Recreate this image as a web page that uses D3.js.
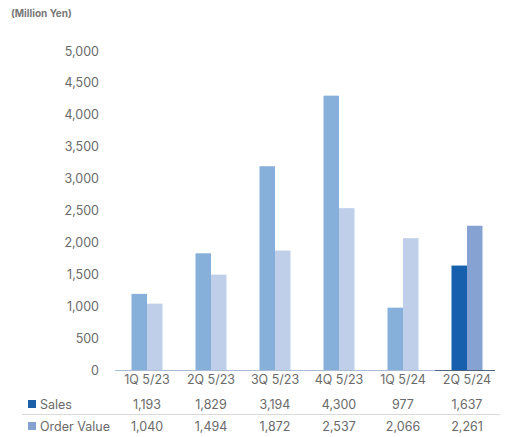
<!DOCTYPE html>
<html><head><meta charset="utf-8">
<script src="https://cdn.jsdelivr.net/npm/d3@7"></script>
<style>body{margin:0;background:#fff}svg{display:block}text{font-family:Inter,"Open Sans",sans-serif}</style>
</head><body><svg id="c" width="507" height="437"></svg>
<script>
const categories = ["1Q 5/23","2Q 5/23","3Q 5/23","4Q 5/23","1Q 5/24","2Q 5/24"];
const sales = [1193,1829,3194,4300,977,1637];
const orders = [1040,1494,1872,2537,2066,2261];
const yTicks = [0,500,1000,1500,2000,2500,3000,3500,4000,4500,5000];
const seriesNames = ["Sales","Order Value"];

const FONT = "Inter,'Open Sans',sans-serif";
const TXT = "#6a6a6a";
const svg = d3.select("#c");
const x = d3.scaleBand().domain(categories).range([115,499]);
const y = d3.scaleLinear().domain([0,5000]).range([370,51]);
const inner = d3.scaleBand().domain([0,1]).range([x.bandwidth()/2-15.5, x.bandwidth()/2+15.5]);
const fmt = d3.format(",");
const lastIdx = categories.length-1;
const colS = (i)=> i===lastIdx ? "#1660ad" : "#86afd9";
const colO = (i)=> i===lastIdx ? "#86a2d3" : "#c0cfe9";

svg.append("text").attr("x",11).attr("y",17).attr("font-size",10).attr("font-weight",700).attr("fill","#777").text("(Million Yen)");

const yAxis = svg.append("g").attr("transform","translate(101,0)")
  .call(d3.axisLeft(y).tickValues(yTicks).tickSize(0).tickPadding(2).tickFormat(fmt));
yAxis.select(".domain").remove();
yAxis.selectAll("text").attr("font-size",12.5).attr("fill",TXT).attr("font-family",FONT);

const g = svg.append("g");
categories.forEach((c,i)=>{
  g.append("rect").attr("x",x(c)+inner(0)).attr("width",inner.bandwidth())
    .attr("y",y(sales[i])).attr("height",y(0)-y(sales[i])).attr("fill",colS(i));
  g.append("rect").attr("x",x(c)+inner(1)).attr("width",inner.bandwidth())
    .attr("y",y(orders[i])).attr("height",y(0)-y(orders[i])).attr("fill",colO(i));
});

// axis baseline
svg.append("line").attr("x1",115).attr("x2",x(categories[lastIdx])).attr("y1",y(0)+0.5).attr("y2",y(0)+0.5).attr("stroke","#a9bcd6").attr("stroke-width",1.2);
svg.append("line").attr("x1",x(categories[lastIdx])).attr("x2",x(categories[lastIdx])+x.bandwidth()-4).attr("y1",y(0)+0.5).attr("y2",y(0)+0.5).attr("stroke","#4d6480").attr("stroke-width",1.2);

// category labels
const xAxis = svg.append("g").attr("transform","translate(0,371)")
  .call(d3.axisBottom(x).tickSize(0).tickPadding(4));
xAxis.select(".domain").remove();
xAxis.selectAll("text").attr("font-size",12.5).attr("fill",TXT).attr("font-family",FONT);

// data table
const rows = [sales, orders];
const rowY = [409, 431];
const swatch = ["#1a5fa8","#86a2d3"];
rows.forEach((vals,r)=>{
  svg.append("rect").attr("x",28).attr("y",rowY[r]-9).attr("width",8).attr("height",8).attr("fill",swatch[r]);
  svg.append("text").attr("x",40).attr("y",rowY[r]).attr("font-size",12.5).attr("fill",TXT).text(seriesNames[r]);
  categories.forEach((c,i)=>{
    svg.append("text").attr("x",x(c)+x.bandwidth()/2).attr("y",rowY[r]).attr("text-anchor","middle")
      .attr("font-size",12.5).attr("fill",TXT).text(fmt(vals[i]));
  });
});
svg.append("line").attr("x1",22).attr("x2",500).attr("y1",414.5).attr("y2",414.5).attr("stroke","#d9d9d9").attr("stroke-width",1);
</script></body></html>
